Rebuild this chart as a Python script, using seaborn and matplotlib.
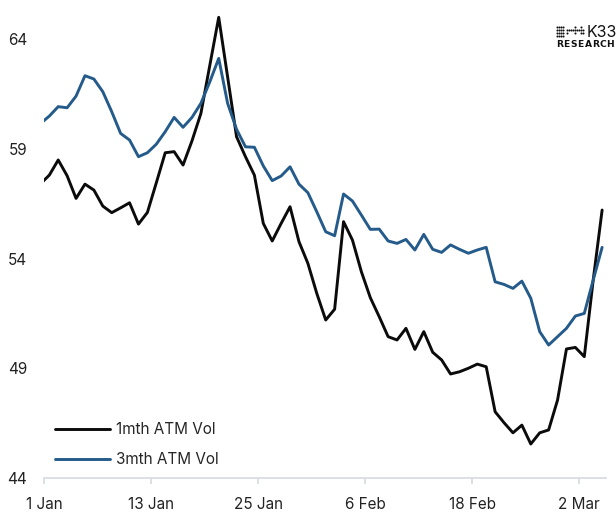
import matplotlib
matplotlib.use("Agg")
import matplotlib.pyplot as plt
import matplotlib.lines as mlines
import numpy as np
import pandas as pd
import seaborn as sns

# Daily at-the-money implied volatility (%), first value is the prior day's close
one_month_vol = [57.40, 57.80, 58.49, 57.77, 56.74, 57.39, 57.12, 56.39, 56.09, 56.31,
                 56.54, 55.57, 56.10, 57.45, 58.82, 58.87, 58.26, 59.36, 60.61, 62.80,
                 64.99, 62.27, 59.55, 58.64, 57.80, 55.60, 54.80, 55.60, 56.36, 54.77,
                 53.78, 52.41, 51.20, 51.69, 55.68, 54.84, 53.40, 52.22, 51.35, 50.44,
                 50.29, 50.82, 49.86, 50.67, 49.73, 49.38, 48.74, 48.84, 49.00, 49.19,
                 49.07, 47.02, 46.52, 46.06, 46.41, 45.55, 46.06, 46.19, 47.55, 49.88,
                 49.95, 49.53, 53.02, 56.21]
three_month_vol = [60.15, 60.49, 60.92, 60.87, 61.40, 62.33, 62.18, 61.60, 60.69, 59.70,
                   59.40, 58.64, 58.82, 59.21, 59.78, 60.43, 59.98, 60.43, 61.07, 62.05,
                   63.12, 61.07, 59.89, 59.09, 59.07, 58.22, 57.55, 57.76, 58.18, 57.39,
                   57.00, 56.13, 55.22, 55.04, 56.94, 56.62, 55.98, 55.33, 55.34, 54.80,
                   54.69, 54.87, 54.39, 55.10, 54.42, 54.28, 54.62, 54.42, 54.24, 54.39,
                   54.51, 52.94, 52.82, 52.64, 52.97, 52.19, 50.67, 50.06, 50.44, 50.82,
                   51.38, 51.50, 53.02, 54.51]
series_names = ["1mth ATM Vol", "3mth ATM Vol"]
series_colors = ["#0b0b0b", "#245b8a"]
tick_dates = ["2025-01-01", "2025-01-13", "2025-01-25", "2025-02-06", "2025-02-18", "2025-03-02"]
tick_labels = ["1 Jan", "13 Jan", "25 Jan", "6 Feb", "18 Feb", "2 Mar"]
y_ticks = [44, 49, 54, 59, 64]

dates = pd.date_range("2024-12-31 13:30", periods=len(one_month_vol), freq="D")
df = pd.DataFrame({
    "date": list(dates) * 2,
    "vol": one_month_vol + three_month_vol,
    "series": [series_names[0]] * len(dates) + [series_names[1]] * len(dates),
})

sns.set_theme(style="white")
plt.rcParams["font.family"] = ["Inter", "DejaVu Sans"]

fig = plt.figure(figsize=(6.16, 5.15), dpi=100)
ax = fig.add_axes([0.0719, 0.0718, 0.9119, 0.9035])

sns.lineplot(data=df, x="date", y="vol", hue="series", palette=series_colors,
             hue_order=series_names, linewidth=2.1, ax=ax, legend=False)

ax.set_xlim(pd.Timestamp("2025-01-01"), pd.Timestamp("2025-03-05"))
ax.set_ylim(44, 65.2)
ax.set_xlabel("")
ax.set_ylabel("")

ax.set_xticks([pd.Timestamp(d) for d in tick_dates])
ax.set_xticklabels(tick_labels)
ax.set_yticks(y_ticks)
ax.set_yticklabels([str(v) for v in y_ticks])

for side in ["top", "right", "left"]:
    ax.spines[side].set_visible(False)
ax.spines["bottom"].set_color("#d9dde4")
ax.spines["bottom"].set_linewidth(1.3)
ax.tick_params(axis="x", bottom=True, length=4, width=1.3, color="#d9dde4",
               pad=10, labelsize=11, labelcolor="#222222")
ax.tick_params(axis="y", left=False, pad=6.5, labelsize=11, labelcolor="#222222")

handles = [mlines.Line2D([], [], color=c, linewidth=2.1) for c in series_colors]
ax.legend(handles, series_names, loc="lower left", bbox_to_anchor=(0.0, 0.0),
          frameon=False, fontsize=11, handlelength=3.6, handletextpad=0.4,
          labelspacing=1.0, borderaxespad=0.3)

# Brand mark in the top-right corner
logo = fig.add_axes([556 / 616, 1 - 37 / 515, 28 / 616, 11 / 515])
logo.set_xlim(-0.5, 13.5)
logo.set_ylim(0.5, 4.5)
logo.axis("off")
gx, gy = np.meshgrid(np.arange(0, 4), np.arange(1, 5))
logo.scatter(gx.ravel(), gy.ravel(), s=2.2, color="#111111", linewidths=0)
logo.scatter([5, 6, 7, 8, 9, 10, 11, 12, 13, 5, 9, 12, 13, 9, 12],
             [3, 3, 3, 3, 3, 3, 3, 3, 3, 2, 2, 2, 2, 4, 4],
             s=2.2, color="#111111", linewidths=0)
fig.text(587 / 616, 1 - 37 / 515, "K33", fontsize=11.5, color="#111111",
         ha="left", va="baseline")
for i, ch in enumerate("RESEARCH"):
    fig.text((556 + i * 7.2) / 616, 1 - 47 / 515, ch, fontsize=6.6, fontweight="bold",
             color="#111111", ha="left", va="baseline", family=["DejaVu Sans"])

fig.savefig("out.png", dpi=100)
